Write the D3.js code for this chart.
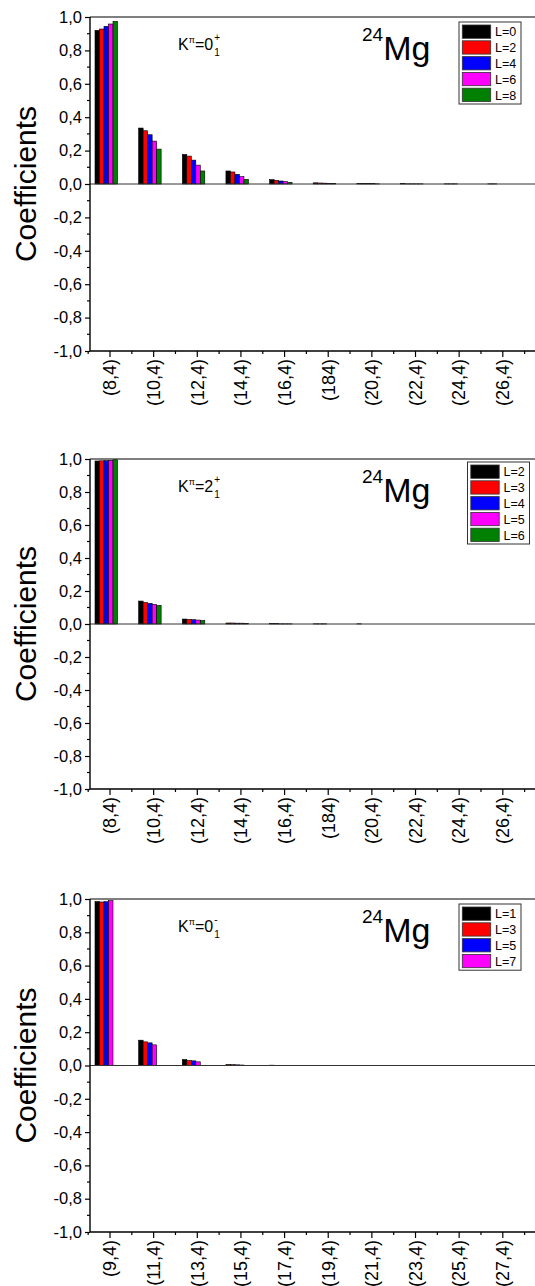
<!DOCTYPE html>
<html>
<head>
<meta charset="utf-8">
<script src="https://cdn.jsdelivr.net/npm/d3@7"></script>
<style>
  body { margin: 0; background: #fff; }
  svg { display: block; font-family: "Liberation Sans", Arial, sans-serif; }
</style>
</head>
<body>
<svg id="chart" width="535" height="1286"></svg>
<script>
// categories (basis labels)
const catsEven = ["(8,4)", "(10,4)", "(12,4)", "(14,4)", "(16,4)", "(184)", "(20,4)", "(22,4)", "(24,4)", "(26,4)"];
const catsOdd = ["(9,4)", "(11,4)", "(13,4)", "(15,4)", "(17,4)", "(19,4)", "(21,4)", "(23,4)", "(25,4)", "(27,4)"];

// panel 1: K=0+ band
const series1 = ["L=0", "L=2", "L=4", "L=6", "L=8"];
const p1L0 = [0.920, 0.335, 0.177, 0.078, 0.026, 0.007, 0.003, 0.002, 0.001, 0.001];
const p1L2 = [0.928, 0.319, 0.167, 0.072, 0.022, 0.006, 0.002, 0.001, 0.001, 0.001];
const p1L4 = [0.944, 0.295, 0.143, 0.058, 0.018, 0.005, 0.002, 0.001, 0.001, 0.000];
const p1L6 = [0.958, 0.257, 0.113, 0.044, 0.014, 0.004, 0.002, 0.001, 0.000, 0.000];
const p1L8 = [0.974, 0.209, 0.078, 0.028, 0.010, 0.003, 0.001, 0.001, 0.000, 0.000];

// panel 2: K=2+ band
const series2 = ["L=2", "L=3", "L=4", "L=5", "L=6"];
const p2L2 = [0.988, 0.139, 0.030, 0.006, 0.002, 0.001, 0.001, 0.000, 0.000, 0.000];
const p2L3 = [0.989, 0.131, 0.028, 0.006, 0.002, 0.001, 0.000, 0.000, 0.000, 0.000];
const p2L4 = [0.990, 0.125, 0.026, 0.005, 0.001, 0.001, 0.000, 0.000, 0.000, 0.000];
const p2L5 = [0.992, 0.119, 0.024, 0.005, 0.001, 0.000, 0.000, 0.000, 0.000, 0.000];
const p2L6 = [0.995, 0.113, 0.021, 0.004, 0.001, 0.000, 0.000, 0.000, 0.000, 0.000];

// panel 3: K=0- band
const series3 = ["L=1", "L=3", "L=5", "L=7"];
const p3L1 = [0.985, 0.152, 0.036, 0.006, 0.002, 0.001, 0.000, 0.000, 0.000, 0.000];
const p3L3 = [0.982, 0.142, 0.030, 0.005, 0.001, 0.001, 0.000, 0.000, 0.000, 0.000];
const p3L5 = [0.984, 0.136, 0.028, 0.004, 0.001, 0.000, 0.000, 0.000, 0.000, 0.000];
const p3L7 = [0.990, 0.124, 0.022, 0.003, 0.001, 0.000, 0.000, 0.000, 0.000, 0.000];

const colors = ["#000000", "#ff0000", "#0000ff", "#ff00ff", "#008000"];
const yMajor = [-1, -0.8, -0.6, -0.4, -0.2, 0, 0.2, 0.4, 0.6, 0.8, 1.0];
const yMinor = [-0.9, -0.7, -0.5, -0.3, -0.1, 0.1, 0.3, 0.5, 0.7, 0.9];

const svg = d3.select("#chart");
const fmt = (d) => d3.format(".1f")(d).replace(".", ",").replace("−", "-");

// panel layout (pixel positions)
const plotLeft = 90;
const plotRight = 545;
const barW = 4.5;

function drawPanel(p) {
  const g = svg.append("g");
  const y = d3.scaleLinear().domain([-1, 1]).range([p.bottom, p.top]);
  // category index -> tick centre
  const x = d3.scaleLinear().domain([0, 9]).range([110, 502.8]);
  const inner = d3.scaleBand().domain(p.series).range([-15, -15 + barW * p.series.length]);

  // y ticks
  const yAxis = d3.axisLeft(y).tickValues(yMajor).tickSize(5).tickPadding(3).tickFormat(fmt);
  const ya = g.append("g").attr("transform", `translate(${plotLeft},0)`).call(yAxis);
  ya.select(".domain").remove();
  ya.selectAll("line").attr("stroke", "#000").attr("stroke-width", 1.2);
  ya.selectAll("text").attr("font-size", 16.5).attr("fill", "#000")
    .attr("font-family", "'Liberation Sans', Arial, sans-serif");
  g.append("g").selectAll("line").data(yMinor).join("line")
    .attr("x1", plotLeft - 3).attr("x2", plotLeft)
    .attr("y1", (d) => y(d)).attr("y2", (d) => y(d))
    .attr("stroke", "#000").attr("stroke-width", 1.2);

  // x ticks
  const idx = d3.range(p.cats.length);
  const xa = g.append("g");
  xa.selectAll("line.major").data(idx).join("line").attr("class", "major")
    .attr("x1", (d) => x(d)).attr("x2", (d) => x(d))
    .attr("y1", p.bottom).attr("y2", p.bottom + 6)
    .attr("stroke", "#000").attr("stroke-width", 1.2);
  xa.selectAll("line.minor").data(d3.range(p.cats.length + 1)).join("line").attr("class", "minor")
    .attr("x1", (d) => x(d - 0.5)).attr("x2", (d) => x(d - 0.5))
    .attr("y1", p.bottom).attr("y2", p.bottom + 3)
    .attr("stroke", "#000").attr("stroke-width", 1.2);
  xa.selectAll("text").data(p.cats).join("text")
    .attr("transform", (d, i) => `translate(${x(i)},${p.bottom + 8}) rotate(-90)`)
    .attr("text-anchor", "end").attr("dy", "0.35em")
    .attr("font-size", 18).attr("fill", "#000")
    .text((d) => d);

  // bars
  const bars = g.append("g");
  p.values.forEach((vals, s) => {
    bars.selectAll(null).data(vals).join("rect")
      .attr("x", (d, i) => x(i) + inner(p.series[s]))
      .attr("width", inner.bandwidth())
      .attr("y", (d) => y(Math.max(d, 0)))
      .attr("height", (d) => Math.abs(y(d) - y(0)))
      .attr("fill", colors[s])
      .attr("stroke", "#000").attr("stroke-width", 0.6);
  });

  // zero line
  g.append("line")
    .attr("x1", plotLeft).attr("x2", plotRight)
    .attr("y1", y(0)).attr("y2", y(0))
    .attr("stroke", "#333").attr("stroke-width", 1);

  // frame
  g.append("line").attr("x1", plotLeft).attr("x2", plotRight)
    .attr("y1", p.top).attr("y2", p.top).attr("stroke", "#000").attr("stroke-width", 1.2);
  g.append("line").attr("x1", plotLeft).attr("x2", plotRight)
    .attr("y1", p.bottom).attr("y2", p.bottom).attr("stroke", "#000").attr("stroke-width", 1.4);
  g.append("line").attr("x1", plotLeft).attr("x2", plotLeft)
    .attr("y1", p.top).attr("y2", p.bottom).attr("stroke", "#000").attr("stroke-width", 1.4);

  // y label
  g.append("text")
    .attr("transform", `translate(36,${(p.top + p.bottom) / 2}) rotate(-90)`)
    .attr("text-anchor", "middle").attr("font-size", 30).attr("fill", "#000")
    .text("Coefficients");

  // K^pi annotation
  const k = g.append("text").attr("x", 178).attr("y", p.top + 33)
    .attr("font-size", 16).attr("fill", "#000");
  k.append("tspan").text("K");
  k.append("tspan").attr("font-size", 9).attr("dy", -7).text("π");
  k.append("tspan").attr("dy", 7).text("=" + p.k);
  const kw = k.node().getComputedTextLength();
  g.append("text").attr("x", 178 + kw + 1).attr("y", p.top + 39)
    .attr("font-size", 10).attr("fill", "#000").text("1");
  g.append("text").attr("x", 178 + kw + 1).attr("y", p.top + 24)
    .attr("font-size", 10).attr("fill", "#000").text(p.sign);

  // nucleus label
  const m = g.append("text").attr("x", 362).attr("y", p.top + 42.5).attr("fill", "#000");
  m.append("tspan").attr("font-size", 19).attr("dy", -18.5).text("24");
  m.append("tspan").attr("font-size", 34).attr("dy", 18.5).text("Mg");

  // legend
  const lg = g.append("g").attr("transform", `translate(${p.lx},${p.ly})`);
  const rowH = 15.8;
  lg.append("rect").attr("x", 0).attr("y", 0)
    .attr("width", 62).attr("height", rowH * p.series.length + 3)
    .attr("fill", "#fff").attr("stroke", "#333").attr("stroke-width", 1);
  p.series.forEach((s, i) => {
    lg.append("rect").attr("x", 3.3).attr("y", 3 + i * rowH)
      .attr("width", 28.4).attr("height", 13.3)
      .attr("fill", colors[i]).attr("stroke", "#333").attr("stroke-width", 0.8);
    lg.append("text").attr("x", 36).attr("y", 3 + i * rowH + 11.3)
      .attr("font-size", 12.5).attr("fill", "#000").text(s);
  });
}

drawPanel({ top: 17, bottom: 351, cats: catsEven, series: series1,
  values: [p1L0, p1L2, p1L4, p1L6, p1L8], k: "0", sign: "+", lx: 459, ly: 22 });
drawPanel({ top: 459, bottom: 789, cats: catsEven, series: series2,
  values: [p2L2, p2L3, p2L4, p2L5, p2L6], k: "2", sign: "+", lx: 467.5, ly: 462 });
drawPanel({ top: 899, bottom: 1232, cats: catsOdd, series: series3,
  values: [p3L1, p3L3, p3L5, p3L7], k: "0", sign: "-", lx: 459, ly: 904 });
</script>
</body>
</html>
